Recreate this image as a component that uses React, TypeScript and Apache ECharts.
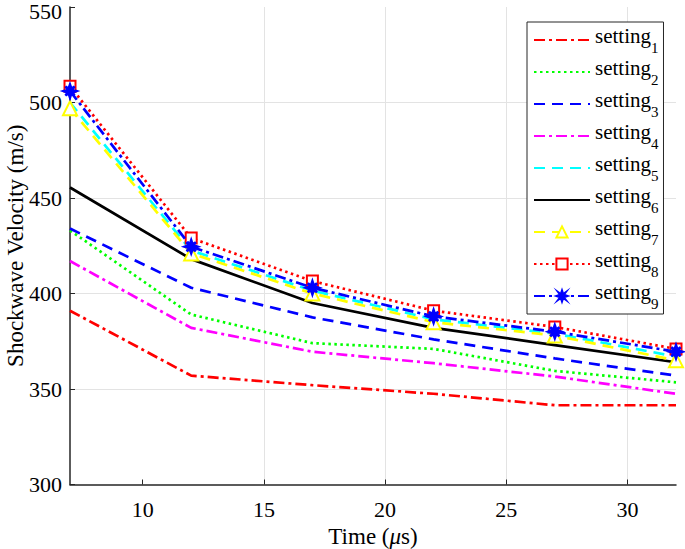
import React, { useEffect, useRef } from 'react';
import * as echarts from 'echarts';

const times = [7, 12, 17, 22, 27, 32];
const setting1 = [391, 357, 352, 347.5, 341.5, 341.5];
const setting2 = [433, 389, 374, 371, 359.5, 353.5];
const setting3 = [434, 403, 387.5, 376, 366, 357];
const setting4 = [417, 382, 369.5, 363.5, 356.5, 347.5];
const setting5 = [500, 422.5, 401.5, 386.5, 379, 367];
const setting6 = [455.5, 418, 395, 382, 373, 364];
const setting7 = [497, 421, 400, 385, 378, 365];
const setting8 = [508.5, 429, 406.5, 391, 382.5, 371];
const setting9 = [506, 424.5, 403, 388, 380, 369.5];
const xTicks = [10, 15, 20, 25, 30];
const seriesNames = ['setting1', 'setting2', 'setting3', 'setting4', 'setting5', 'setting6', 'setting7', 'setting8', 'setting9'];
const seriesValues = [setting1, setting2, setting3, setting4, setting5, setting6, setting7, setting8, setting9];

const FONT = '"Liberation Serif", "Times New Roman", serif';
const STAR = 'path://M0,-10 L2.2,-3.5 L7,-7 L3.5,-2.2 L10,0 L3.5,2.2 L7,7 L2.2,3.5 L0,10 L-2.2,3.5 L-7,7 L-3.5,2.2 L-10,0 L-3.5,-2.2 L-7,-7 L-2.2,-3.5 Z';

const styles: any[] = [
  { color: '#ff0000', type: [11, 4, 3, 4], symbol: 'none' },
  { color: '#00ff00', type: [2.5, 3.5], symbol: 'none' },
  { color: '#0000ff', type: [11, 7], symbol: 'none' },
  { color: '#ff00ff', type: [11, 4, 3, 4], symbol: 'none' },
  { color: '#00ffff', type: [11, 7], symbol: 'none' },
  { color: '#000000', type: 'solid', symbol: 'none' },
  { color: '#ffff00', type: [11, 7], symbol: 'emptyTriangle', size: 14 },
  { color: '#ff0000', type: [2.5, 3.5], symbol: 'emptyRect', size: 11 },
  { color: '#0000ff', type: [11, 4, 3, 4], symbol: STAR, size: 13 },
];

export default function App() {
  const ref = useRef<HTMLDivElement>(null);
  useEffect(() => {
    if (!ref.current) return;
    const chart = echarts.init(ref.current, null, { renderer: 'svg' });
    const series = seriesNames.map((name, i) => {
      const st = styles[i];
      return {
        name,
        type: 'line',
        data: times.map((t, j) => [t, seriesValues[i][j]]),
        color: st.color,
        symbol: st.symbol,
        symbolSize: st.size || 0,
        showSymbol: st.symbol !== 'none',
        lineStyle: { color: st.color, width: 2.7, type: st.type },
        itemStyle: { color: st.color, borderColor: st.color, borderWidth: 2.5 },
        z: 2 + i,
      };
    });
    const legendData = seriesNames.map((name, i) =>
      styles[i].symbol === 'none'
        ? { name, itemStyle: { opacity: 0, color: 'rgba(0,0,0,0)', borderWidth: 0 } }
        : { name }
    );
    chart.setOption({
      animation: false,
      backgroundColor: '#ffffff',
      grid: { left: 70, right: 9, top: 7, bottom: 64.5, containLabel: false, outerBoundsMode: 'none' },
      xAxis: {
        type: 'value',
        min: 7,
        max: 32,
        name: '{n|Time (}{i|μ}{n|s)}',
        nameLocation: 'middle',
        nameGap: 33,
        nameTextStyle: {
          rich: {
            n: { fontFamily: FONT, fontSize: 23, color: '#000', lineHeight: 26 },
            i: { fontFamily: FONT, fontSize: 23, color: '#000', fontStyle: 'italic', lineHeight: 26 },
          },
        },
        axisLine: { show: true, lineStyle: { color: '#262626', width: 1.5 } },
        axisTick: { show: true, inside: true, length: 5, customValues: xTicks, lineStyle: { color: '#262626' } },
        axisLabel: { customValues: xTicks, color: '#000', fontFamily: FONT, fontSize: 22, margin: 14 },
        splitLine: { show: true, showMinLine: false, lineStyle: { color: '#e3e3e3', width: 1 } },
      },
      yAxis: {
        type: 'value',
        min: 300,
        max: 550,
        interval: 50,
        name: 'Shockwave Velocity (m/s)',
        nameLocation: 'middle',
        nameGap: 43,
        nameMoveOverlap: false,
        nameTextStyle: { fontFamily: FONT, fontSize: 23, color: '#000' },
        axisLine: { show: true, lineStyle: { color: '#262626', width: 1.5 } },
        axisTick: { show: true, inside: true, length: 5, lineStyle: { color: '#262626' } },
        axisLabel: {
          color: '#000',
          fontFamily: FONT,
          fontSize: 22,
          margin: 8,
          formatter: (v: number) => (v === 550 ? `{top|${v}}` : `${v}`),
          rich: { top: { fontFamily: FONT, fontSize: 22, color: '#000', padding: [9, 0, 0, 0] } },
        },
        splitLine: { show: true, showMinLine: false, showMaxLine: false, lineStyle: { color: '#e3e3e3', width: 1 } },
      },
      legend: {
        orient: 'vertical',
        left: 527,
        top: 22,
        backgroundColor: '#ffffff',
        borderColor: '#262626',
        borderWidth: 1,
        borderRadius: 0,
        padding: [3, 5, 3, 6],
        itemWidth: 56,
        itemHeight: 14,
        itemGap: 2,
        data: legendData,
        formatter: (name: string) => `{a|setting}{s|${name.slice(7)}}`,
        textStyle: {
          rich: {
            a: { fontFamily: FONT, fontSize: 21, color: '#000', verticalAlign: 'top', lineHeight: 30 },
            s: { fontFamily: FONT, fontSize: 15, color: '#000', verticalAlign: 'bottom', lineHeight: 30 },
          },
        },
      },
      series,
    });
    return () => chart.dispose();
  }, []);
  return <div ref={ref} style={{ position: 'fixed', left: 0, top: 0, width: 685, height: 549 }} />;
}
